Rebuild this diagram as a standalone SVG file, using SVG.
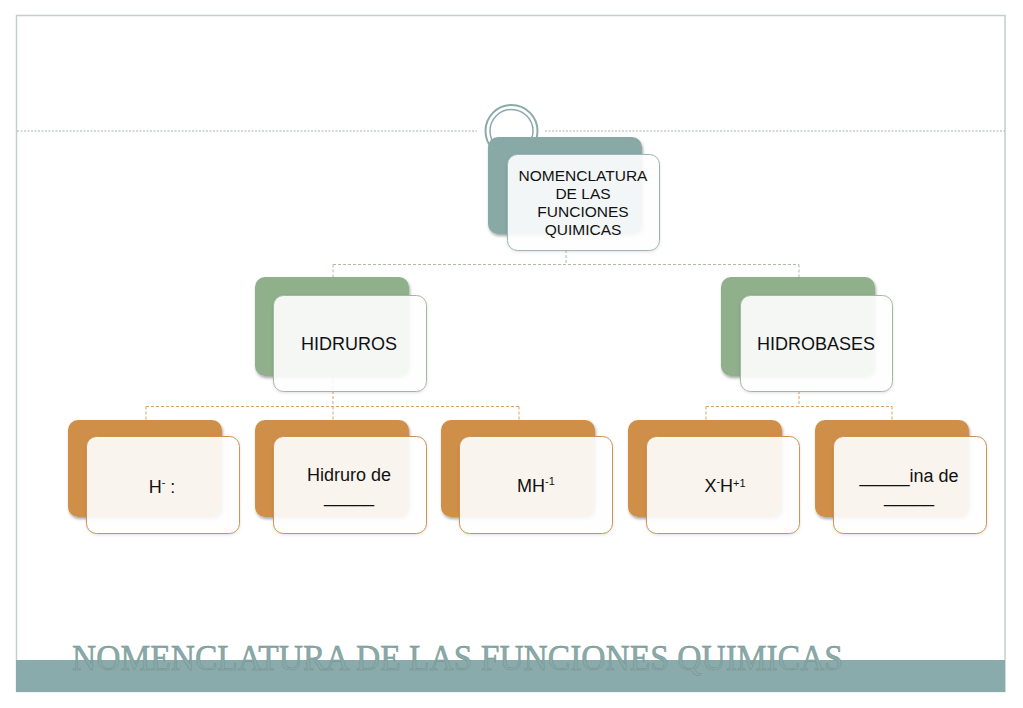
<svg xmlns="http://www.w3.org/2000/svg" width="1023" height="708" viewBox="0 0 1023 708">
<defs>
<filter id="sh" x="-10%" y="-10%" width="130%" height="130%">
<feDropShadow dx="1" dy="2" stdDeviation="1.5" flood-color="#000" flood-opacity="0.35"/>
</filter>
<filter id="sh2" x="-10%" y="-10%" width="130%" height="130%">
<feDropShadow dx="0" dy="1" stdDeviation="1.5" flood-color="#000" flood-opacity="0.12"/>
</filter>
</defs>
<style>
.lbl{font-family:"Liberation Sans",Arial,sans-serif;font-size:18px;fill:#111;text-anchor:middle}
.root{font-size:15.5px}
.sup{font-size:11px}
.backT{fill:#89a9a6}
.backG{fill:#8fb08b}
.backO{fill:#d08f48}
.front{fill:#fff;fill-opacity:0.9}
.fT{stroke:#9fb5b3;stroke-width:1}
.fG{stroke:#a3b8a1;stroke-width:1}
.fO{stroke:#c99454;stroke-width:1}
.cG{fill:none;stroke:#a9bea7;stroke-width:1;stroke-dasharray:3 2}
.cO{fill:none;stroke:#d9a066;stroke-width:1;stroke-dasharray:3 2}
.ft{font-family:"Liberation Serif","Times New Roman",serif;font-size:35px;fill:#8aaaa9;stroke:#6f918f;stroke-width:0.5}
</style>
<rect x="0" y="0" width="1023" height="708" fill="#fff"/>
<rect x="16.5" y="15.5" width="988.5" height="676" fill="#fff" stroke="#c5cfcd" stroke-width="1.5"/>
<line x1="17" y1="131" x2="477" y2="131" stroke="#9fb3b2" stroke-width="1" stroke-dasharray="2 1.5"/>
<line x1="545" y1="131" x2="1005" y2="131" stroke="#9fb3b2" stroke-width="1" stroke-dasharray="2 1.5"/>
<circle cx="511.5" cy="131" r="26" fill="#fff" stroke="#8aabab" stroke-width="2"/>
<circle cx="511.5" cy="131" r="21.5" fill="#fff" stroke="#8aabab" stroke-width="1.5"/>
<rect x="16" y="660" width="989" height="32" fill="#8aabab"/>
<text class="ft" x="72" y="670" textLength="771" lengthAdjust="spacingAndGlyphs">NOMENCLATURA DE LAS FUNCIONES QUIMICAS</text>

<g id="connectors">
<path class="cG" d="M566 250 V264.5 M333 264.5 H799 M333 264.5 V277 M799 264.5 V277"/>
<path class="cO" d="M333 376 V406.5 M146 406.5 H519 M146 406.5 V420 M333 406.5 V420 M519 406.5 V420"/>
<path class="cO" d="M799 391 V406.5 M706 406.5 H892 M706 406.5 V420 M892 406.5 V420"/>
</g>

<g id="node-root">
<rect class="backT" x="488" y="137" width="154" height="97" rx="10" filter="url(#sh)"/>
<rect class="front fT" x="507.5" y="154.5" width="152" height="96" rx="10" filter="url(#sh2)"/>
<text class="lbl root" x="583" y="181">NOMENCLATURA</text>
<text class="lbl root" x="583" y="199">DE LAS</text>
<text class="lbl root" x="583" y="217">FUNCIONES</text>
<text class="lbl root" x="583" y="235">QUIMICAS</text>
</g>

<g id="node-hidruros">
<rect class="backG" x="255" y="277" width="154" height="99" rx="10" filter="url(#sh)"/>
<rect class="front fG" x="273.5" y="295.5" width="153" height="96" rx="10" filter="url(#sh2)"/>
<text class="lbl" x="349" y="350">HIDRUROS</text>
</g>

<g id="node-hidrobases">
<rect class="backG" x="721" y="277" width="154" height="99" rx="10" filter="url(#sh)"/>
<rect class="front fG" x="740.5" y="295.5" width="152" height="96" rx="10" filter="url(#sh2)"/>
<text class="lbl" x="816" y="350">HIDROBASES</text>
</g>

<g id="node-h">
<rect class="backO" x="68" y="420" width="154" height="97" rx="10" filter="url(#sh)"/>
<rect class="front fO" x="86.5" y="436.5" width="153" height="97" rx="10" filter="url(#sh2)"/>
<text class="lbl" x="162" y="493">H<tspan class="sup" dy="-7">-</tspan><tspan dy="7"> :</tspan></text>
</g>

<g id="node-hidruro-de">
<rect class="backO" x="255" y="420" width="154" height="97" rx="10" filter="url(#sh)"/>
<rect class="front fO" x="273.5" y="436.5" width="153" height="97" rx="10" filter="url(#sh2)"/>
<text class="lbl" x="349" y="481">Hidruro de</text>
<text class="lbl" x="349" y="502">_____</text>
</g>

<g id="node-mh">
<rect class="backO" x="441" y="420" width="154" height="97" rx="10" filter="url(#sh)"/>
<rect class="front fO" x="459.5" y="436.5" width="153" height="97" rx="10" filter="url(#sh2)"/>
<text class="lbl" x="536" y="492">MH<tspan class="sup" dy="-7">-1</tspan></text>
</g>

<g id="node-xh">
<rect class="backO" x="628" y="420" width="154" height="97" rx="10" filter="url(#sh)"/>
<rect class="front fO" x="646.5" y="436.5" width="153" height="97" rx="10" filter="url(#sh2)"/>
<text class="lbl" x="725" y="492">X<tspan class="sup" dy="-7">-</tspan><tspan dy="7">H</tspan><tspan class="sup" dy="-5">+1</tspan></text>
</g>

<g id="node-ina">
<rect class="backO" x="815" y="420" width="154" height="97" rx="10" filter="url(#sh)"/>
<rect class="front fO" x="833.5" y="436.5" width="153" height="97" rx="10" filter="url(#sh2)"/>
<text class="lbl" x="909" y="482">_____ina de</text>
<text class="lbl" x="909" y="502">_____</text>
</g>
</svg>
